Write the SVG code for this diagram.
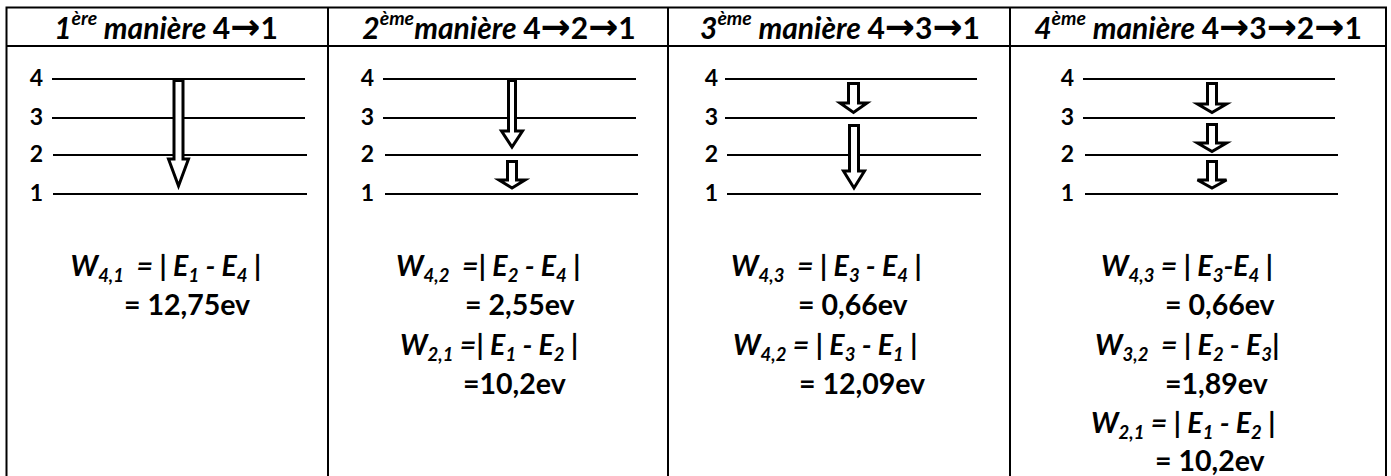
<svg xmlns="http://www.w3.org/2000/svg" width="1391" height="476" viewBox="0 0 1391 476">
<style>
.t{font-family:Lato,"Liberation Sans",sans-serif;font-weight:bold;fill:#000;white-space:pre}
.i{font-style:italic}
.u{font-style:normal}
.h{font-size:30px}
.f{font-size:28.5px}
.sp{font-size:19.5px}
.sb{font-size:18.5px;font-style:italic}
.ar{font-family:"DejaVu Sans",sans-serif;font-size:36px;font-style:normal}
.lbl{font-size:23px;text-anchor:end}
.c{text-anchor:middle}
.grid{stroke:#000;stroke-width:2;fill:none}
.lev{stroke:#000;stroke-width:2}
.arr{fill:#fff;stroke:#000;stroke-width:3;stroke-linejoin:miter}
</style>
<rect width="1391" height="476" fill="#fff"/>
<g id="table" class="grid">
<path d="M6.5,476 V7.5 H1386 V476"/>
<line x1="6.5" y1="46" x2="1386" y2="46"/>
<line x1="328" y1="7.5" x2="328" y2="476"/>
<line x1="668" y1="7.5" x2="668" y2="476"/>
<line x1="1010" y1="7.5" x2="1010" y2="476"/>
</g>
<g id="col1">
<text class="t h c" x="166" y="39"><tspan class="i">1</tspan><tspan class="sp i" dy="-14">ère</tspan><tspan class="i" dy="14"> manière </tspan><tspan class="u">4</tspan><tspan class="ar">→</tspan><tspan class="u">1</tspan></text>
<line class="lev" x1="52" y1="79" x2="305" y2="79"/>
<line class="lev" x1="52" y1="118" x2="305" y2="118"/>
<line class="lev" x1="53" y1="155" x2="307" y2="155"/>
<line class="lev" x1="53" y1="194" x2="307" y2="194"/>
<text class="t lbl" x="43" y="86">4</text>
<text class="t lbl" x="43" y="125">3</text>
<text class="t lbl" x="43" y="162">2</text>
<text class="t lbl" x="43" y="201">1</text>
<polygon class="arr" points="174,80.5 183,80.5 183,159 188.5,159 178.5,186 168.5,159 174,159"/>
<text class="t f c" x="166" y="276"><tspan class="i">W</tspan><tspan class="sb" dy="6">4,1</tspan><tspan class="i" dy="-6">  = | E</tspan><tspan class="sb" dy="6">1</tspan><tspan class="i" dy="-6"> - E</tspan><tspan class="sb" dy="6">4</tspan><tspan class="i" dy="-6"> |</tspan></text>
<text class="t f" x="124" y="315">= 12,75ev</text>
</g>
<g id="col2">
<text class="t h c" x="499" y="39"><tspan class="i">2</tspan><tspan class="sp i" dy="-14">ème</tspan><tspan class="i" dy="14">manière </tspan><tspan class="u">4</tspan><tspan class="ar">→</tspan><tspan class="u">2</tspan><tspan class="ar">→</tspan><tspan class="u">1</tspan></text>
<line class="lev" x1="383" y1="79" x2="636" y2="79"/>
<line class="lev" x1="383" y1="118" x2="636" y2="118"/>
<line class="lev" x1="385" y1="155" x2="638" y2="155"/>
<line class="lev" x1="385" y1="194" x2="638" y2="194"/>
<text class="t lbl" x="374" y="86">4</text>
<text class="t lbl" x="374" y="125">3</text>
<text class="t lbl" x="374" y="162">2</text>
<text class="t lbl" x="374" y="201">1</text>
<polygon class="arr" points="508.5,80.5 515.5,80.5 515.5,131 522.5,131 512,147 501.5,131 508.5,131"/>
<polygon class="arr" points="507.5,161.5 516.5,161.5 516.5,180 525,180 512,188 499,180 507.5,180"/>
<text class="t f" x="396" y="276"><tspan class="i">W</tspan><tspan class="sb" dy="6">4,2</tspan><tspan class="i" dy="-6">  =| E</tspan><tspan class="sb" dy="6">2</tspan><tspan class="i" dy="-6"> - E</tspan><tspan class="sb" dy="6">4</tspan><tspan class="i" dy="-6"> |</tspan></text>
<text class="t f" x="465" y="315">= 2,55ev</text>
<text class="t f" x="400" y="355"><tspan class="i">W</tspan><tspan class="sb" dy="6">2,1</tspan><tspan class="i" dy="-6"> =| E</tspan><tspan class="sb" dy="6">1</tspan><tspan class="i" dy="-6"> - E</tspan><tspan class="sb" dy="6">2</tspan><tspan class="i" dy="-6"> |</tspan></text>
<text class="t f" x="463" y="394">=10,2ev</text>
</g>
<g id="col3">
<text class="t h c" x="840" y="39"><tspan class="i">3</tspan><tspan class="sp i" dy="-14">ème</tspan><tspan class="i" dy="14"> manière </tspan><tspan class="u">4</tspan><tspan class="ar">→</tspan><tspan class="u">3</tspan><tspan class="ar">→</tspan><tspan class="u">1</tspan></text>
<line class="lev" x1="725" y1="79" x2="977" y2="79"/>
<line class="lev" x1="725" y1="118" x2="977" y2="118"/>
<line class="lev" x1="727" y1="155" x2="981" y2="155"/>
<line class="lev" x1="727" y1="194" x2="981" y2="194"/>
<text class="t lbl" x="718" y="86">4</text>
<text class="t lbl" x="718" y="125">3</text>
<text class="t lbl" x="718" y="162">2</text>
<text class="t lbl" x="718" y="201">1</text>
<polygon class="arr" points="848.5,83.5 858.5,83.5 858.5,103 867,103 853.5,112.5 840,103 848.5,103"/>
<polygon class="arr" points="849.5,125.5 858.5,125.5 858.5,171 864.5,171 854,188 843.5,171 849.5,171"/>
<text class="t f" x="731" y="276"><tspan class="i">W</tspan><tspan class="sb" dy="6">4,3</tspan><tspan class="i" dy="-6">  = | E</tspan><tspan class="sb" dy="6">3</tspan><tspan class="i" dy="-6"> - E</tspan><tspan class="sb" dy="6">4</tspan><tspan class="i" dy="-6"> |</tspan></text>
<text class="t f" x="798" y="315">= 0,66ev</text>
<text class="t f" x="733" y="355"><tspan class="i">W</tspan><tspan class="sb" dy="6">4,2</tspan><tspan class="i" dy="-6"> = | E</tspan><tspan class="sb" dy="6">3</tspan><tspan class="i" dy="-6"> - E</tspan><tspan class="sb" dy="6">1</tspan><tspan class="i" dy="-6"> |</tspan></text>
<text class="t f" x="799" y="394">= 12,09ev</text>
</g>
<g id="col4">
<text class="t h c" x="1198" y="39"><tspan class="i">4</tspan><tspan class="sp i" dy="-14">ème</tspan><tspan class="i" dy="14"> manière </tspan><tspan class="u">4</tspan><tspan class="ar">→</tspan><tspan class="u">3</tspan><tspan class="ar">→</tspan><tspan class="u">2</tspan><tspan class="ar">→</tspan><tspan class="u">1</tspan></text>
<line class="lev" x1="1083" y1="79" x2="1335" y2="79"/>
<line class="lev" x1="1083" y1="118" x2="1335" y2="118"/>
<line class="lev" x1="1085" y1="155" x2="1338" y2="155"/>
<line class="lev" x1="1085" y1="194" x2="1338" y2="194"/>
<text class="t lbl" x="1074" y="86">4</text>
<text class="t lbl" x="1074" y="125">3</text>
<text class="t lbl" x="1074" y="162">2</text>
<text class="t lbl" x="1074" y="201">1</text>
<polygon class="arr" points="1207.5,83.5 1216.5,83.5 1216.5,104 1226.5,104 1212,112.5 1197.5,104 1207.5,104"/>
<polygon class="arr" points="1207.5,124.5 1216.5,124.5 1216.5,143 1226.5,143 1212,151.5 1197.5,143 1207.5,143"/>
<polygon class="arr" points="1207.5,161.5 1216.5,161.5 1216.5,180 1226.5,180 1212,188 1197.5,180 1207.5,180"/>
<text class="t f" x="1101" y="276"><tspan class="i">W</tspan><tspan class="sb" dy="6">4,3</tspan><tspan class="i" dy="-6"> = | E</tspan><tspan class="sb" dy="6">3</tspan><tspan class="i" dy="-6">-E</tspan><tspan class="sb" dy="6">4</tspan><tspan class="i" dy="-6"> |</tspan></text>
<text class="t f" x="1165" y="315">= 0,66ev</text>
<text class="t f" x="1095" y="355"><tspan class="i">W</tspan><tspan class="sb" dy="6">3,2</tspan><tspan class="i" dy="-6">  = | E</tspan><tspan class="sb" dy="6">2</tspan><tspan class="i" dy="-6"> - E</tspan><tspan class="sb" dy="6">3</tspan><tspan class="i" dy="-6">|</tspan></text>
<text class="t f" x="1165" y="394">=1,89ev</text>
<text class="t f" x="1091" y="433"><tspan class="i">W</tspan><tspan class="sb" dy="6">2,1</tspan><tspan class="i" dy="-6"> = | E</tspan><tspan class="sb" dy="6">1</tspan><tspan class="i" dy="-6"> - E</tspan><tspan class="sb" dy="6">2</tspan><tspan class="i" dy="-6"> |</tspan></text>
<text class="t f" x="1155" y="471">= 10,2ev</text>
</g>
</svg>
